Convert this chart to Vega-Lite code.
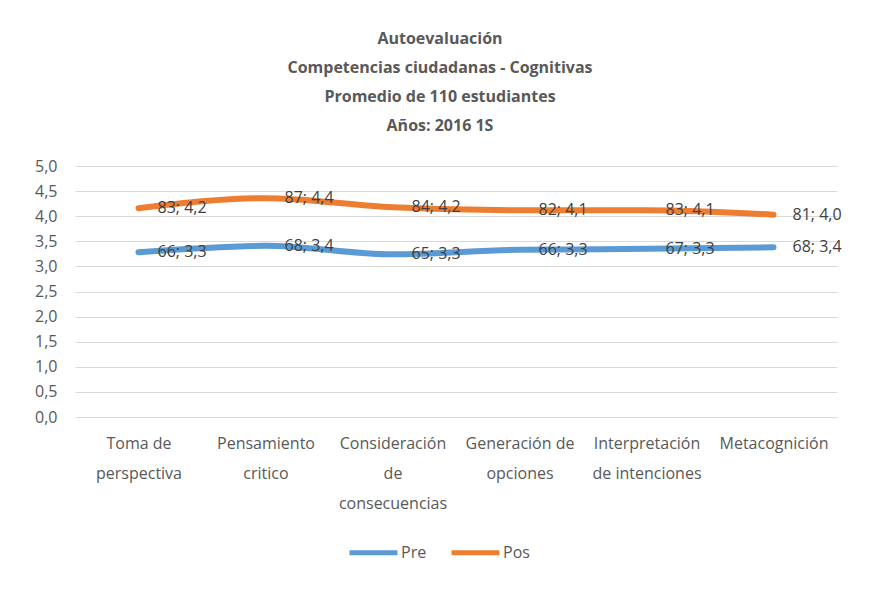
{
  "$schema": "https://vega.github.io/schema/vega-lite/v6.json",
  "width": 762,
  "height": 251,
  "autosize": {"type": "none"},
  "padding": {"left": 75, "top": 166, "right": 50, "bottom": 198},
  "background": "white",
  "config": {
    "font": "Open Sans",
    "view": {"stroke": null},
    "axis": {"labelFont": "Open Sans", "labelColor": "#595959", "labelFontSize": 16}
  },
  "title": {
    "text": ["Autoevaluación", "Competencias ciudadanas - Cognitivas", "Promedio de 110  estudiantes", "Años: 2016 1S"],
    "font": "Open Sans",
    "fontSize": 16,
    "fontWeight": "bold",
    "color": "#595959",
    "lineHeight": 29,
    "anchor": "middle",
    "dx": -16,
    "offset": 24
  },
  "data": {
    "values": [
      {"competencia": "Toma de perspectiva", "serie": "Pre", "promedio": 3.28, "porcentaje": 66, "etiqueta": "66; 3,3"},
      {"competencia": "Pensamiento critico", "serie": "Pre", "promedio": 3.41, "porcentaje": 68, "etiqueta": "68; 3,4"},
      {"competencia": "Consideración de consecuencias", "serie": "Pre", "promedio": 3.24, "porcentaje": 65, "etiqueta": "65; 3,3"},
      {"competencia": "Generación de opciones", "serie": "Pre", "promedio": 3.33, "porcentaje": 66, "etiqueta": "66; 3,3"},
      {"competencia": "Interpretación de intenciones", "serie": "Pre", "promedio": 3.35, "porcentaje": 67, "etiqueta": "67; 3,3"},
      {"competencia": "Metacognición", "serie": "Pre", "promedio": 3.38, "porcentaje": 68, "etiqueta": "68; 3,4"},
      {"competencia": "Toma de perspectiva", "serie": "Pos", "promedio": 4.16, "porcentaje": 83, "etiqueta": "83; 4,2"},
      {"competencia": "Pensamiento critico", "serie": "Pos", "promedio": 4.36, "porcentaje": 87, "etiqueta": "87; 4,4"},
      {"competencia": "Consideración de consecuencias", "serie": "Pos", "promedio": 4.18, "porcentaje": 84, "etiqueta": "84; 4,2"},
      {"competencia": "Generación de opciones", "serie": "Pos", "promedio": 4.12, "porcentaje": 82, "etiqueta": "82; 4,1"},
      {"competencia": "Interpretación de intenciones", "serie": "Pos", "promedio": 4.12, "porcentaje": 83, "etiqueta": "83; 4,1"},
      {"competencia": "Metacognición", "serie": "Pos", "promedio": 4.03, "porcentaje": 81, "etiqueta": "81; 4,0"}
    ]
  },
  "encoding": {
    "x": {
      "field": "competencia",
      "type": "nominal",
      "sort": null,
      "scale": {"paddingInner": 0, "paddingOuter": 0},
      "axis": {
        "title": null,
        "labelAngle": 0,
        "domain": false,
        "ticks": false,
        "labelPadding": 18,
        "labelBaseline": "top",
        "labelLineHeight": 30,
        "labelExpr": "({'Toma de perspectiva': ['Toma de', 'perspectiva'], 'Pensamiento critico': ['Pensamiento', 'critico'], 'Consideración de consecuencias': ['Consideración', 'de', 'consecuencias'], 'Generación de opciones': ['Generación de', 'opciones'], 'Interpretación de intenciones': ['Interpretación', 'de intenciones'], 'Metacognición': ['Metacognición']})[datum.label]"
      }
    },
    "y": {
      "field": "promedio",
      "type": "quantitative",
      "scale": {"domain": [0, 5], "nice": false},
      "axis": {
        "title": null,
        "values": [0, 0.5, 1, 1.5, 2, 2.5, 3, 3.5, 4, 4.5, 5],
        "labelExpr": "replace(format(datum.value, '.1f'), '.', ',')",
        "domain": false,
        "ticks": false,
        "labelPadding": 18,
        "gridColor": "#d9d9d9",
        "gridWidth": 1.2
      }
    }
  },
  "layer": [
    {
      "mark": {"type": "line", "strokeWidth": 6, "strokeCap": "round", "strokeJoin": "round", "interpolate": "monotone"},
      "encoding": {
        "color": {
          "field": "serie",
          "type": "nominal",
          "scale": {"domain": ["Pre", "Pos"], "range": ["#5b9bd5", "#ed7d31"]},
          "legend": {
            "title": null,
            "orient": "none",
            "direction": "horizontal",
            "legendX": 272,
            "legendY": 360,
            "symbolType": "stroke",
            "symbolSize": 2300,
            "symbolStrokeWidth": 5,
            "labelFont": "Open Sans",
            "labelFontSize": 16,
            "labelColor": "#595959",
            "labelOffset": 1,
            "columnPadding": 14
          }
        }
      }
    },
    {
      "mark": {"type": "text", "align": "left", "baseline": "middle", "dx": 19, "fontSize": 16, "color": "#404040", "font": "Open Sans"},
      "encoding": {"text": {"field": "etiqueta"}}
    }
  ]
}
